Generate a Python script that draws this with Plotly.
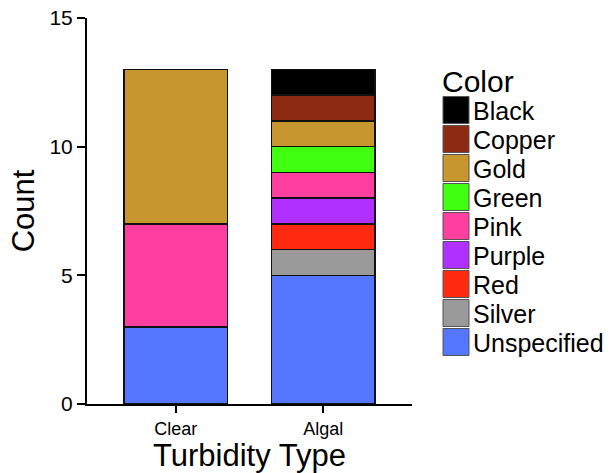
import plotly.graph_objects as go

turbidity = ["Clear", "Algal"]
color_names = ["Unspecified", "Silver", "Red", "Purple", "Pink", "Green", "Gold", "Copper", "Black"]
clear_counts = [3, 0, 0, 0, 4, 0, 6, 0, 0]
algal_counts = [5, 1, 1, 1, 1, 1, 1, 1, 1]
fill_colors = {
    "Unspecified": "#5577FF",
    "Silver": "#9A9A9A",
    "Red": "#FF2A10",
    "Purple": "#B030FF",
    "Pink": "#FF3FA0",
    "Green": "#40FF10",
    "Gold": "#C8962E",
    "Copper": "#8C2A12",
    "Black": "#000000",
}
legend_order = ["Black", "Copper", "Gold", "Green", "Pink", "Purple", "Red", "Silver", "Unspecified"]

FONT = "Liberation Sans, Arial, sans-serif"

fig = go.Figure()
for i, name in enumerate(color_names):
    fig.add_trace(go.Bar(
        x=turbidity,
        y=[clear_counts[i], algal_counts[i]],
        name=name,
        marker=dict(color=fill_colors[name], line=dict(color="#111111", width=1.5)),
        width=0.7,
        showlegend=False,
    ))

FW, FH = 616, 473
# plot area in page pixels
L, R, T, B = 87, 412, 18, 404
W, H = R - L, B - T

def px_x(p):
    return (p - L) / W

def px_y(p):
    return (B - p) / H

shapes = []
annotations = [dict(
    text="Color", x=px_x(440), y=px_y(81), xref="paper", yref="paper",
    xanchor="left", yanchor="middle", showarrow=False,
    font=dict(family=FONT, size=30, color="black"),
)]
for k, name in enumerate(legend_order):
    cy = 110 + 29 * k
    shapes.append(dict(
        type="rect", xref="paper", yref="paper",
        x0=px_x(443), x1=px_x(469), y0=px_y(cy - 13.5), y1=px_y(cy + 13.5),
        fillcolor=fill_colors[name], line=dict(color="#555555", width=1),
    ))
    annotations.append(dict(
        text=name, x=px_x(471), y=px_y(cy + 1), xref="paper", yref="paper",
        xanchor="left", yanchor="middle", showarrow=False,
        font=dict(family=FONT, size=25, color="black"),
    ))

fig.update_layout(
    barmode="stack",
    width=FW, height=FH,
    margin=dict(l=L, r=FW - R, t=T, b=FH - B),
    plot_bgcolor="white", paper_bgcolor="white",
    font=dict(family=FONT, color="black"),
    shapes=shapes,
    annotations=annotations,
    showlegend=False,
    xaxis=dict(
        range=[-0.6, 1.6], showline=True, linecolor="black", linewidth=2,
        ticks="outside", ticklen=7, tickwidth=2, tickcolor="black",
        tickfont=dict(size=18, family=FONT), showgrid=False, zeroline=False,
        automargin=False,
        title=dict(text="Turbidity Type", font=dict(size=31, family=FONT), standoff=2),
    ),
    yaxis=dict(
        range=[0, 15], tickvals=[0, 5, 10, 15], showline=True, linecolor="black", linewidth=2,
        ticks="outside", ticklen=8, tickwidth=2, tickcolor="black",
        tickfont=dict(size=21, family=FONT), showgrid=False, zeroline=False,
        automargin=False, ticklabeloverflow="allow",
        title=dict(text="Count", font=dict(size=31, family=FONT), standoff=6),
    ),
)

fig.write_html(
    "out.html",
    config={"displayModeBar": False},
    post_script="document.body.style.margin='0';",
)
